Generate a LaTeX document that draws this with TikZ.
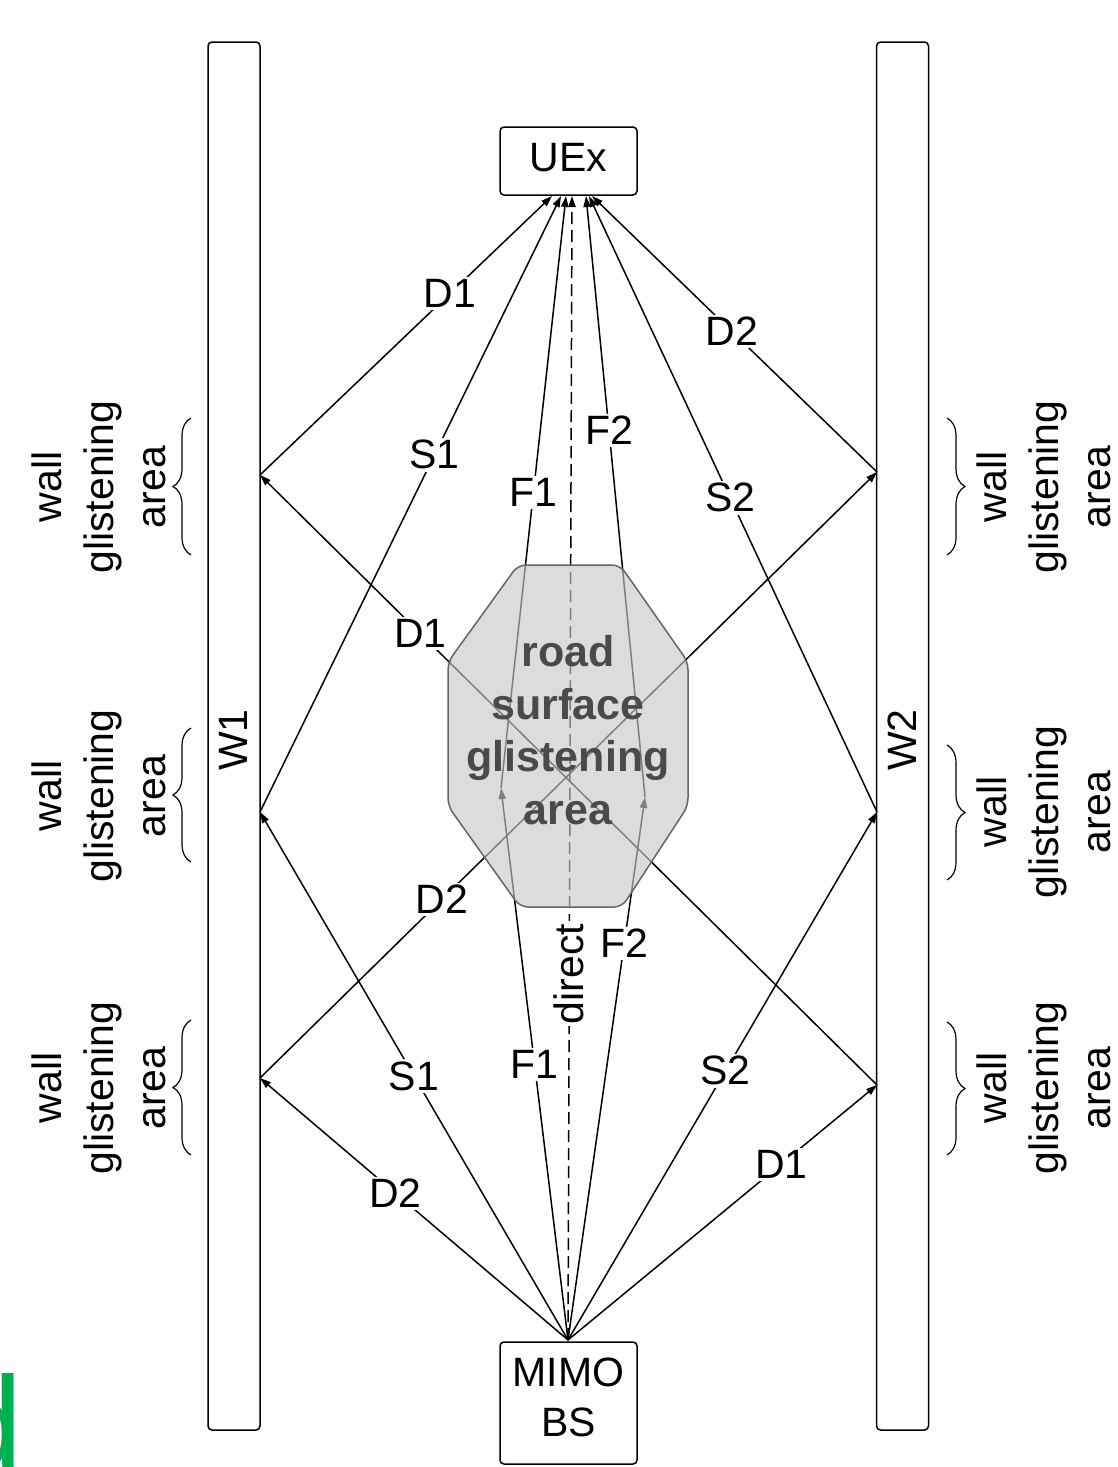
\documentclass[tikz,border=0pt]{standalone}
\usepackage{fontspec}
\setmainfont{Liberation Sans}
\usetikzlibrary{arrows.meta,decorations.pathreplacing,calc}
\definecolor{roadfill}{gray}{0.785}
\definecolor{roadedge}{HTML}{666666}
\definecolor{roadtext}{HTML}{4A4A4A}
\definecolor{markgreen}{HTML}{00B050}
\begin{document}
\begin{tikzpicture}[x=0.5pt,y=-0.5pt,
  every node/.style={font=\fontsize{20.5}{26}\selectfont},
  ray/.style={line width=0.75pt},
  hit/.style={ray,-{Triangle[length=5.5pt,width=3.6pt]}},
  lbl/.style={fill=white,inner sep=1.2pt},
  box/.style={draw,line width=0.75pt,rounded corners=2pt,minimum width=68.5pt,align=center,inner sep=0pt},
  wallbox/.style={draw,line width=0.75pt,rounded corners=2pt,minimum width=26pt,minimum height=694pt,inner sep=0pt},
  bracesty/.style={decorate,decoration={brace,amplitude=9pt},line width=0.6pt},
  side/.style={rotate=90,align=center,inner sep=0pt}
]
\useasboundingbox (0,0) rectangle (1118,1467);

% walls, terminals
\node[wallbox] (W1) at (234,736) {};
\node[wallbox] (W2) at (902.5,736) {};
\node[rotate=90,inner sep=0pt] (W1t) at (233,740) {W1};
\node[rotate=90,inner sep=0pt] (W2t) at (902,740) {W2};
\node[box,minimum height=34pt,text depth=4pt] (uex) at (568.5,161) {UEx};
\node[box,minimum height=61pt,text depth=6pt,font=\fontsize{20.5}{25}\selectfont] (bs) at (568.5,1403) {MIMO\\BS};

% reflection points on the walls and the road
\coordinate (w1a) at (260,475);
\coordinate (w1b) at (260,812);
\coordinate (w1c) at (260,1078);
\coordinate (w2a) at (877,472);
\coordinate (w2b) at (877,812);
\coordinate (w2c) at (877,1085);
\coordinate (r1) at (501,788);
\coordinate (r2) at (645,797);
\coordinate (bsp) at (568,1340);
% arrival points under the UE
\coordinate (uD1) at (552,196);
\coordinate (uS1) at (561,196);
\coordinate (uF1) at (566,196);
\coordinate (uDi) at (572,196);
\coordinate (uF2) at (586,196);
\coordinate (uS2) at (589,196);
\coordinate (uD2) at (592,196);

% base station to first bounce
\draw[hit] (bsp) -- node[lbl,pos=0.56] {D2} (w1c);
\draw[hit] (bsp) -- node[lbl,pos=0.5] {S1} (w1b);
\draw[hit] (bsp) -- node[lbl,pos=0.5] {F1} (r1);
\draw[hit] (bsp) -- node[lbl,pos=0.73] {F2} (r2);
\draw[hit] (bsp) -- node[lbl,pos=0.51] {S2} (w2b);
\draw[hit] (bsp) -- node[lbl,pos=0.69] {D1} (w2c);
% double bounces across the street
\draw[hit] (w2c) -- node[lbl,pos=0.74] {D1} (w1a);
\draw[hit] (w1c) -- node[lbl,pos=0.295] {D2} (w2a);
% last legs to the UE
\draw[hit] (w1a) -- node[lbl,pos=0.65] {D1} (uD1);
\draw[hit] (w1b) -- node[lbl,pos=0.58] {S1} (uS1);
\draw[hit] (r1) -- node[lbl,pos=0.5] {F1} (uF1);
\draw[hit] (r2) -- node[lbl,pos=0.61] {F2} (uF2);
\draw[hit] (w2b) -- node[lbl,pos=0.51] {S2} (uS2);
\draw[hit] (w2a) -- node[lbl,pos=0.51] {D2} (uD2);
% line of sight
\draw[hit,dashed,dash pattern=on 6pt off 3pt] (bsp) -- node[lbl,pos=0.32,rotate=90] {direct} (uDi);

% road surface glistening area (translucent over the rays)
\draw[roadedge,line width=0.75pt,fill=roadfill,fill opacity=0.64,rounded corners=4pt]
  (518,565) -- (620,565) -- (688,662) -- (688,806) -- (622,907) -- (520,907) -- (448,806) -- (448,662) -- cycle;
\node[align=center,text=roadtext,font=\fontsize{21.5}{26.3}\bfseries\selectfont] (road) at (568,730)
  {road\\surface\\glistening\\area};

% wall glistening areas, left
\draw[bracesty] (191,555) -- (191,418);
\draw[bracesty] (191,862) -- (191,728);
\draw[bracesty] (191,1155) -- (191,1020);
\node[side] (gl1) at (99,487) {wall\\glistening\\area};
\node[side] (gl2) at (99,796) {wall\\glistening\\area};
\node[side] (gl3) at (99,1088) {wall\\glistening\\area};
% wall glistening areas, right
\draw[bracesty] (947,418) -- (947,555);
\draw[bracesty] (947,745) -- (947,880);
\draw[bracesty] (947,1022) -- (947,1155);
\node[side] (gr1) at (1044,487) {wall\\glistening\\area};
\node[side] (gr2) at (1044,812) {wall\\glistening\\area};
\node[side] (gr3) at (1044,1088) {wall\\glistening\\area};

% green letter at the lower left edge
\begin{scope}
\clip (0,1300) rectangle (80,1467);
\node[anchor=base west,inner sep=0pt,text=markgreen,font=\fontsize{67}{67}\selectfont] (mark) at (-52,1470) {d};
\end{scope}
\end{tikzpicture}
\end{document}
